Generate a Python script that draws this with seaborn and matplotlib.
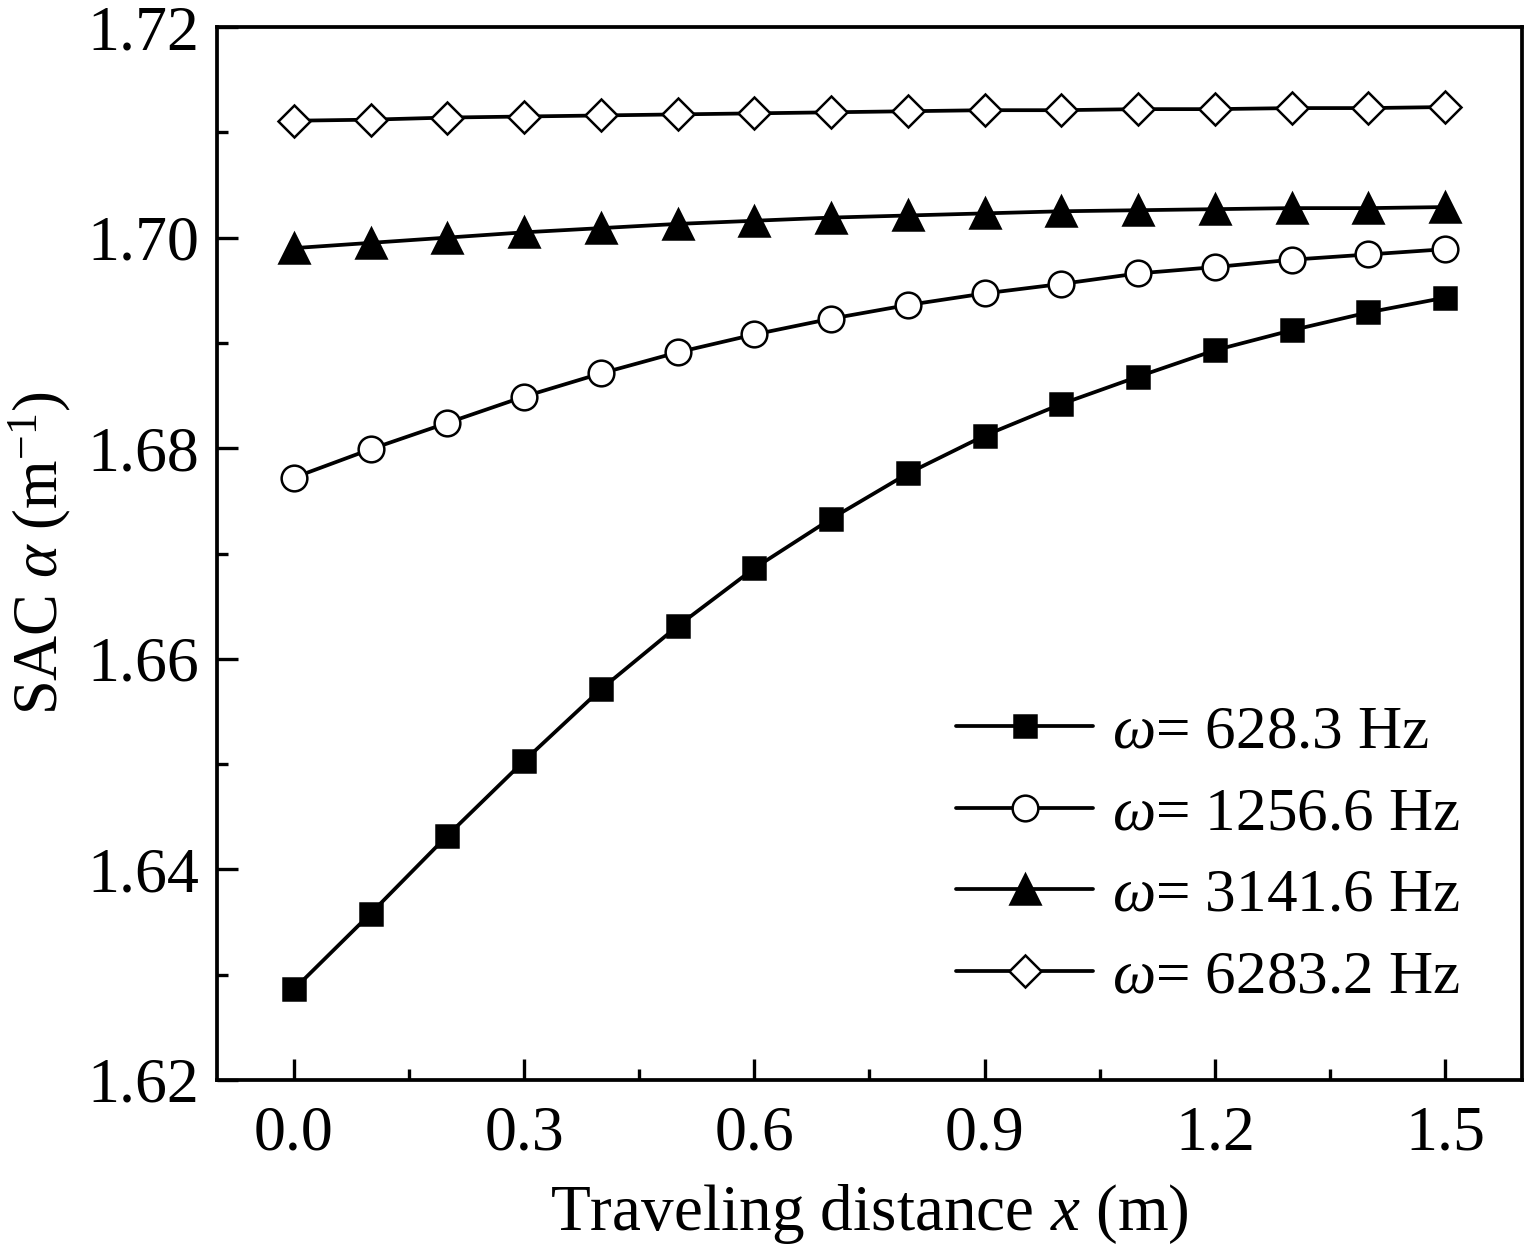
import numpy as np
import pandas as pd
import matplotlib
matplotlib.use("Agg")
import matplotlib.pyplot as plt
import seaborn as sns

# ---- data ----
x_vals = [0.0, 0.1, 0.2, 0.3, 0.4, 0.5, 0.6, 0.7, 0.8, 0.9, 1.0, 1.1, 1.2, 1.3, 1.4, 1.5]
sac_628 = [1.6286, 1.6358, 1.6432, 1.6503, 1.6571, 1.6631, 1.6686, 1.6733,
           1.6776, 1.6812, 1.6842, 1.6868, 1.6893, 1.6912, 1.6929, 1.6943]
sac_1256 = [1.6772, 1.6799, 1.6824, 1.6849, 1.6871, 1.6891, 1.6908, 1.6923,
            1.6936, 1.6947, 1.6956, 1.6966, 1.6972, 1.6979, 1.6984, 1.6989]
sac_3141 = [1.6990, 1.6995, 1.7000, 1.7005, 1.7009, 1.7013, 1.7016, 1.7019,
            1.7021, 1.7023, 1.7025, 1.7026, 1.7027, 1.7028, 1.7028, 1.7029]
sac_6283 = [1.7111, 1.7112, 1.7114, 1.7115, 1.7116, 1.7117, 1.7118, 1.7119,
            1.7120, 1.7121, 1.7121, 1.7122, 1.7122, 1.7123, 1.7123, 1.7124]
series_labels = [r"$\omega$= 628.3 Hz", r"$\omega$= 1256.6 Hz",
                 r"$\omega$= 3141.6 Hz", r"$\omega$= 6283.2 Hz"]
x_ticks = [0.0, 0.3, 0.6, 0.9, 1.2, 1.5]
y_ticks = [1.62, 1.64, 1.66, 1.68, 1.70, 1.72]

sns.set_theme(style="ticks")
plt.rcParams["font.family"] = ["Liberation Serif", "DejaVu Serif"]
plt.rcParams["mathtext.fontset"] = "custom"
plt.rcParams["mathtext.rm"] = "Liberation Serif"
plt.rcParams["mathtext.it"] = "Liberation Serif:italic"
plt.rcParams["mathtext.bf"] = "Liberation Serif:bold"
plt.rcParams["text.color"] = "black"
plt.rcParams["axes.labelcolor"] = "black"
plt.rcParams["xtick.color"] = "black"
plt.rcParams["ytick.color"] = "black"

fig = plt.figure(figsize=(15.3, 12.52), dpi=100)
ax = fig.add_axes([217 / 1530, 1 - 1080 / 1252, (1522 - 217) / 1530, (1080 - 27) / 1252])

styles = [
    dict(marker="s", markersize=15.5, markerfacecolor="black"),
    dict(marker="o", markersize=18.5, markerfacecolor="white"),
    dict(marker="^", markersize=21, markerfacecolor="black"),
    dict(marker="D", markersize=16.5, markerfacecolor="white"),
]
series = [sac_628, sac_1256, sac_3141, sac_6283]
for vals, lab, st in zip(series, series_labels, styles):
    df = pd.DataFrame({"x": x_vals, "y": vals})
    sns.lineplot(data=df, x="x", y="y", ax=ax, color="black", linewidth=2.7,
                 markeredgecolor="black", markeredgewidth=1.8, label=lab, **st)

ax.set_xlim(-0.1, 1.6)
ax.set_ylim(1.62, 1.72)
ax.set_xticks(x_ticks)
ax.set_xticklabels([f"{v:.1f}" for v in x_ticks])
ax.set_xticks([0.15, 0.45, 0.75, 1.05, 1.35], minor=True)
ax.set_yticks(y_ticks)
ax.set_yticklabels([f"{v:.2f}" for v in y_ticks])
ax.set_yticks([1.63, 1.65, 1.67, 1.69, 1.71], minor=True)

ax.tick_params(axis="both", which="major", direction="in", length=15, width=2.4,
               labelsize=46, pad=13, colors="black")
ax.tick_params(axis="both", which="minor", direction="in", length=8, width=2.4)
ax.tick_params(axis="x", which="major", pad=18)
for side in ["top", "right", "left", "bottom"]:
    ax.spines[side].set_visible(True)
    ax.spines[side].set_linewidth(2.7)
    ax.spines[side].set_color("black")

ax.set_xlabel(r"Traveling distance $x$ (m)", fontsize=47, labelpad=14, color="black")
ax.set_ylabel(r"SAC $\alpha$ (m$^{-1}$)", fontsize=45, labelpad=10, color="black")

leg = ax.legend(loc="lower right", bbox_to_anchor=(0.971, 0.048), frameon=False,
                fontsize=44, handlelength=2.25, handletextpad=0.3,
                labelspacing=0.42, borderaxespad=0, labelcolor="black")

fig.savefig("out.png", dpi=100, facecolor="white")
